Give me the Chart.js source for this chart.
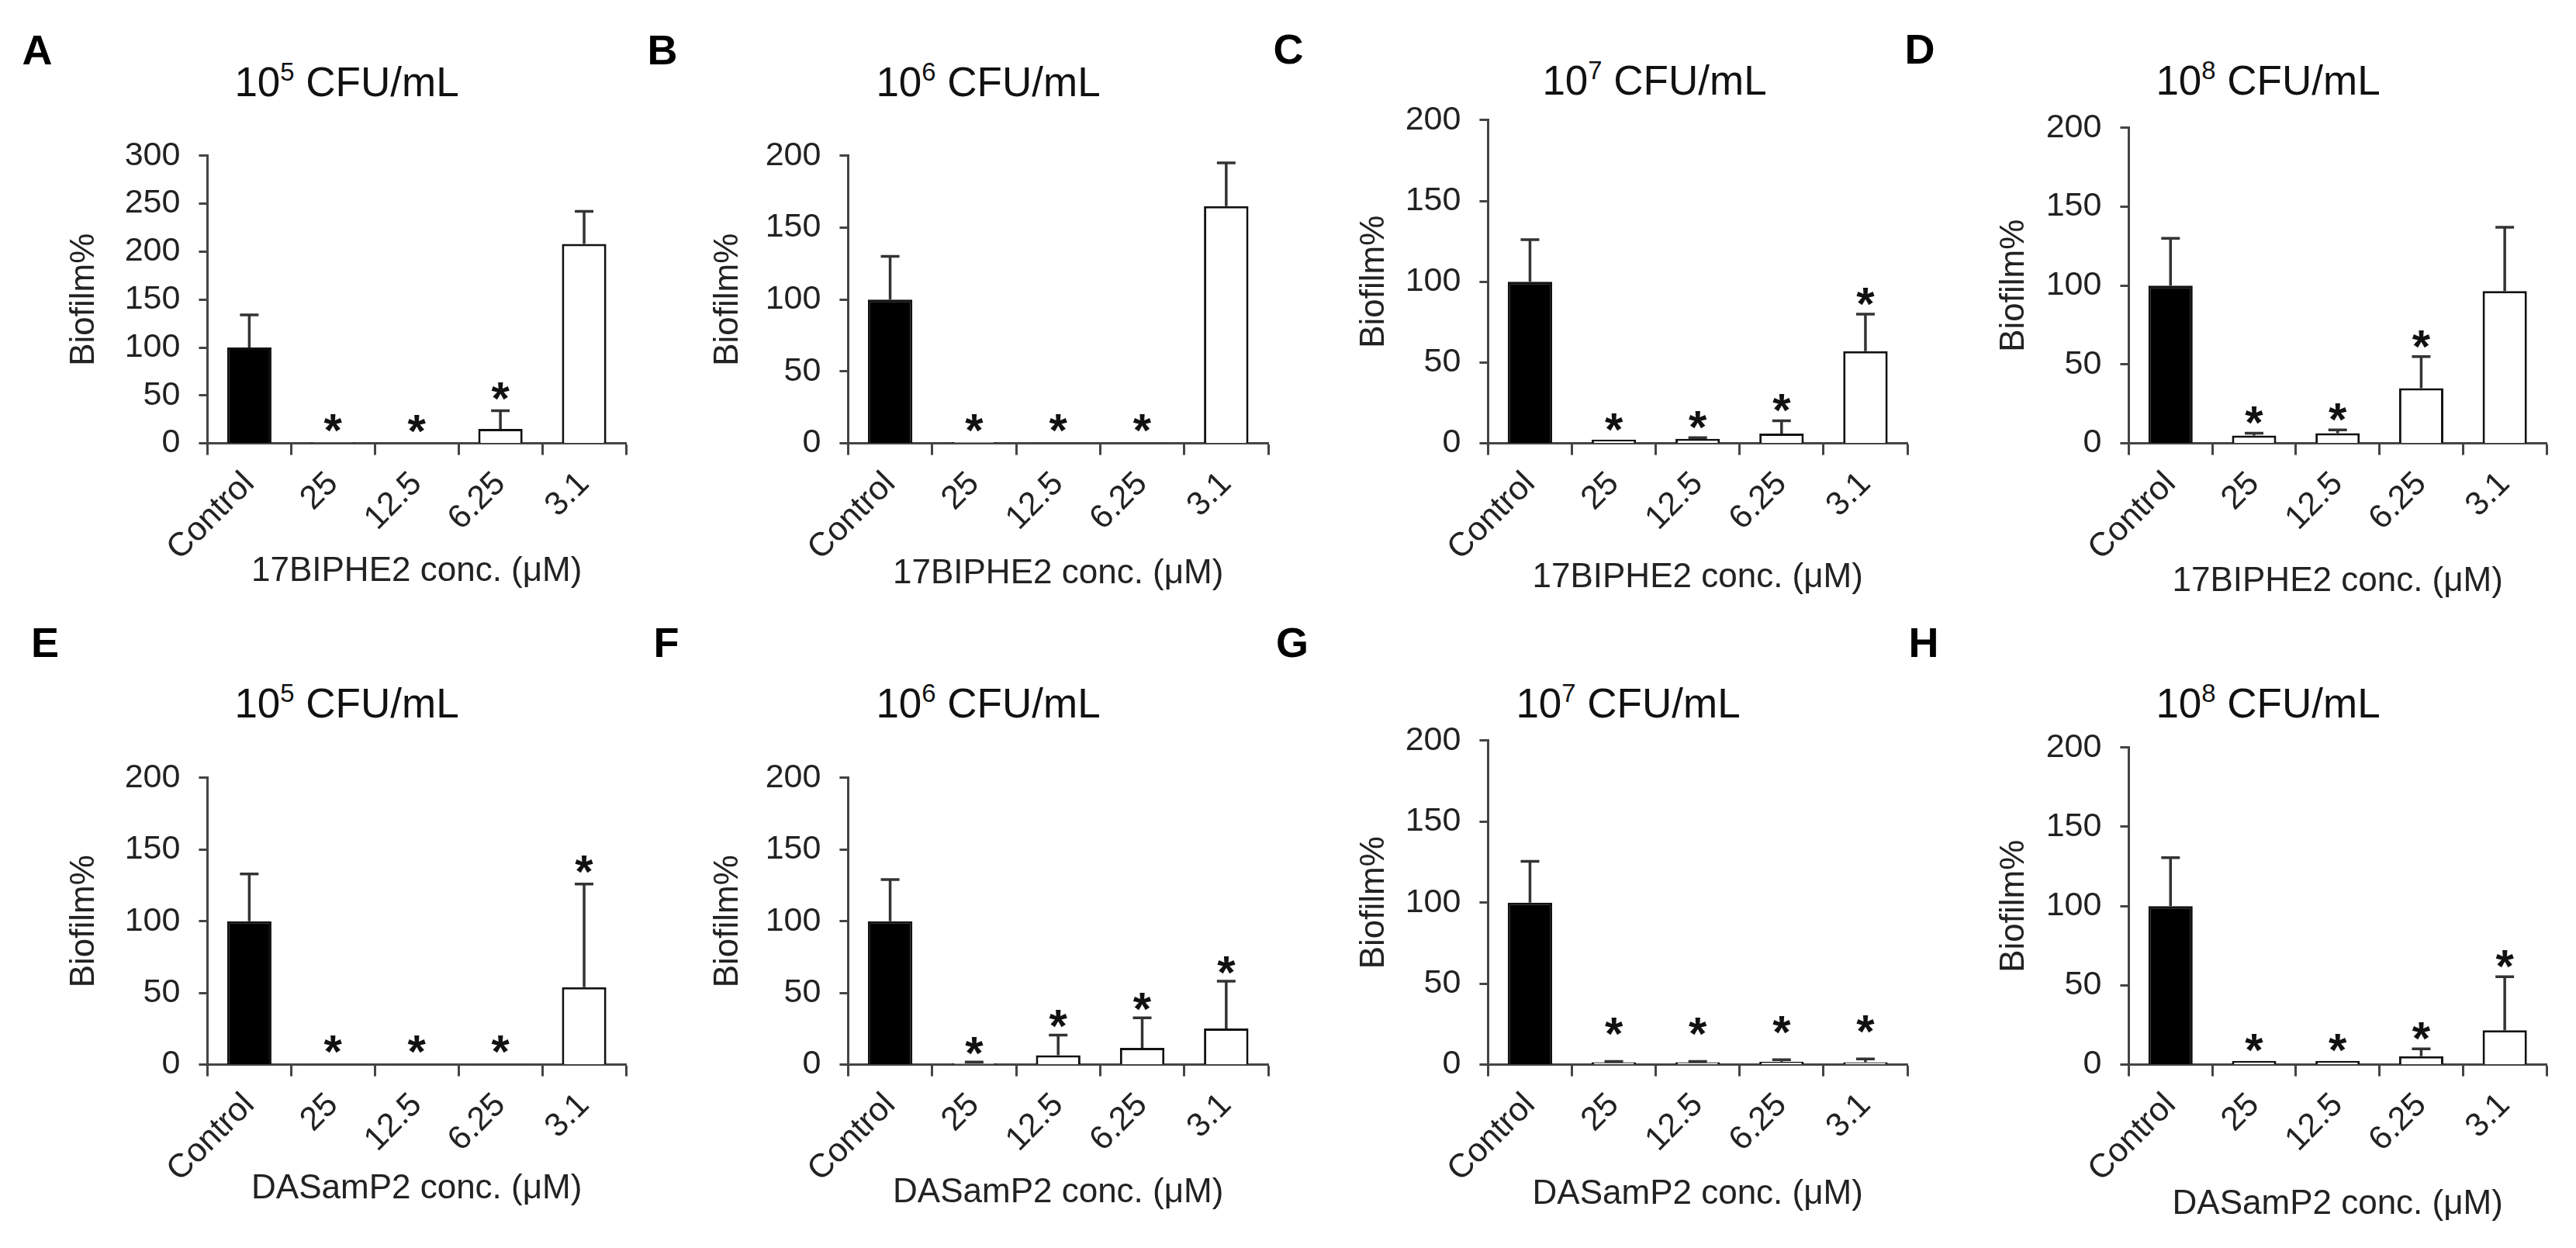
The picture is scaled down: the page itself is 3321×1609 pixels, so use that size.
<!DOCTYPE html>
<html>
<head>
<meta charset="utf-8">
<script src="https://cdn.jsdelivr.net/npm/chart.js@4.4.0/dist/chart.umd.min.js"></script>
<style>
  body { margin: 0; background: #fff; width: 3321px; height: 1609px; position: relative; overflow: hidden;
         font-family: 'Liberation Sans', Arial, sans-serif; }
  canvas { position: absolute; }
  .letter { position: absolute; font-weight: bold; font-size: 54px; line-height: 1; color: #000;
            transform: translate(-50%, -50%); }
  .title { position: absolute; font-size: 53px; line-height: 1; color: #111; white-space: nowrap;
           transform: translate(-50%, -50%); }
  .title sup { font-size: 62%; vertical-align: baseline; position: relative; top: -0.62em; }
</style>
</head>
<body>
<script>
// Categories (concentration, µM)
const categories = ['Control', '25', '12.5', '6.25', '3.1'];
const drugTop = '17BIPHE2 conc. (\u03BCM)';
const drugBottom = 'DASamP2 conc. (\u03BCM)';

// Biofilm% means, upper SD, significance
const meanA = [100, 1, 0.5, 15, 208];
const sdA   = [34, 0, 0, 19, 34];
const starA = [false, true, true, true, false];

const meanB = [100, 0.8, 0.5, 0.5, 165];
const sdB   = [30, 0, 0, 0, 30];
const starB = [false, true, true, true, false];

const meanC = [100, 2.3, 2.8, 6, 57];
const sdC   = [26, 0, 0.7, 8, 23];
const starC = [false, true, true, true, true];

const meanD = [100, 5, 6.5, 35, 96.5];
const sdD   = [30, 1.5, 2, 20, 40.5];
const starD = [false, true, true, true, false];

const meanE = [100, 0.5, 0.5, 0.5, 54];
const sdE   = [33, 0, 0, 0, 72];
const starE = [false, true, true, true, true];

const meanF = [100, 0.8, 6.6, 11.7, 25.2];
const sdF   = [29, 1, 14, 21, 33];
const starF = [false, true, true, true, true];

const meanG = [100, 1.5, 1.5, 1.8, 1.5];
const sdG   = [25.5, 0.5, 0.5, 1.2, 2];
const starG = [false, true, true, true, true];

const meanH = [100, 2.4, 2.4, 5.3, 21.7];
const sdH   = [30.5, 0, 0, 4.7, 33.7];
const starH = [false, true, true, true, true];

const FONT = "'Liberation Sans', Arial, sans-serif";
const AXIS = '#444';
const TEXT = '#222';

// Panel layout (page pixels)
const panels = [
  { id: 'A', exp: '5', mean: meanA, sd: sdA, stars: starA, max: 300, drug: drugTop,
    L: 267, R: 807, T: 181, B: 572, ytx: 108, xty: 737, tx: 447, ty: 105, lx: 48, ly: 64, gap: 30 },
  { id: 'B', exp: '6', mean: meanB, sd: sdB, stars: starB, max: 200, drug: drugTop,
    L: 1093, R: 1635, T: 181, B: 572, ytx: 938, xty: 740, tx: 1274, ty: 105, lx: 854, ly: 64, gap: 30 },
  { id: 'C', exp: '7', mean: meanC, sd: sdC, stars: starC, max: 200, drug: drugTop,
    L: 1918, R: 2459, T: 135, B: 572, ytx: 1771, xty: 745, tx: 2133, ty: 103, lx: 1661, ly: 63, gap: 28 },
  { id: 'D', exp: '8', mean: meanD, sd: sdD, stars: starD, max: 200, drug: drugTop,
    L: 2744, R: 3283, T: 145, B: 572, ytx: 2596, xty: 750, tx: 2924, ty: 103, lx: 2475, ly: 63, gap: 28 },
  { id: 'E', exp: '5', mean: meanE, sd: sdE, stars: starE, max: 200, drug: drugBottom,
    L: 267, R: 807, T: 983, B: 1373, ytx: 108, xty: 1533, tx: 447, ty: 906, lx: 58, ly: 828, gap: 30 },
  { id: 'F', exp: '6', mean: meanF, sd: sdF, stars: starF, max: 200, drug: drugBottom,
    L: 1093, R: 1635, T: 983, B: 1373, ytx: 938, xty: 1538, tx: 1274, ty: 906, lx: 859, ly: 828, gap: 26 },
  { id: 'G', exp: '7', mean: meanG, sd: sdG, stars: starG, max: 200, drug: drugBottom,
    L: 1918, R: 2459, T: 935, B: 1373, ytx: 1771, xty: 1540, tx: 2099, ty: 906, lx: 1666, ly: 828, gap: 50 },
  { id: 'H', exp: '8', mean: meanH, sd: sdH, stars: starH, max: 200, drug: drugBottom,
    L: 2744, R: 3283, T: 944, B: 1373, ytx: 2596, xty: 1553, tx: 2924, ty: 906, lx: 2480, ly: 828, gap: 28 }
];

const TITLE_SIZE = 44;
const TITLE_HALF = TITLE_SIZE * 1.2 / 2;
const PAD_TOP = 30, PAD_RIGHT = 20;

// upper error bars + asterisks
function makeErrorPlugin(p) {
  return {
    id: 'errorBars' + p.id,
    afterDatasetsDraw(chart) {
      const ctx = chart.ctx;
      const y = chart.scales.y;
      const meta = chart.getDatasetMeta(0);
      ctx.save();
      meta.data.forEach((bar, i) => {
        const yTop = y.getPixelForValue(p.mean[i] + p.sd[i]);
        if (p.sd[i] > 0) {
          ctx.strokeStyle = '#333';
          ctx.lineWidth = 3.5;
          ctx.beginPath();
          ctx.moveTo(bar.x, bar.y);
          ctx.lineTo(bar.x, yTop);
          ctx.moveTo(bar.x - 12, yTop);
          ctx.lineTo(bar.x + 12, yTop);
          ctx.stroke();
        }
        if (p.stars[i]) {
          ctx.fillStyle = '#111';
          ctx.font = 'bold 60px ' + FONT;
          ctx.textAlign = 'center';
          ctx.textBaseline = 'alphabetic';
          ctx.fillText('*', bar.x, yTop - p.gap + 0.58 * 60);
        }
      });
      ctx.restore();
    }
  };
}

panels.forEach(p => {
  // panel letter and title as page text
  const letter = document.createElement('div');
  letter.className = 'letter';
  letter.style.left = p.lx + 'px';
  letter.style.top = p.ly + 'px';
  letter.textContent = p.id;
  document.body.appendChild(letter);

  const title = document.createElement('div');
  title.className = 'title';
  title.style.left = p.tx + 'px';
  title.style.top = p.ty + 'px';
  title.innerHTML = '10<sup>' + p.exp + '</sup> CFU/mL';
  document.body.appendChild(title);

  const left = p.ytx - TITLE_HALF;
  const yWidth = p.L - left;
  const xHeight = p.xty + TITLE_HALF - p.B;
  const canvas = document.createElement('canvas');
  canvas.width = Math.round(p.R + PAD_RIGHT - left);
  canvas.height = Math.round(PAD_TOP + (p.B - p.T) + xHeight);
  canvas.style.left = left + 'px';
  canvas.style.top = (p.T - PAD_TOP) + 'px';
  document.body.appendChild(canvas);

  new Chart(canvas.getContext('2d'), {
    type: 'bar',
    data: {
      labels: categories,
      datasets: [{
        data: p.mean,
        backgroundColor: p.mean.map((v, i) => i === 0 ? '#000' : '#fff'),
        borderColor: '#111',
        borderWidth: 3,
        barPercentage: 0.53,
        categoryPercentage: 1
      }]
    },
    options: {
      responsive: false,
      animation: false,
      devicePixelRatio: 1,
      layout: { padding: { top: PAD_TOP, right: PAD_RIGHT, bottom: 0, left: 0 } },
      plugins: { legend: { display: false }, tooltip: { enabled: false } },
      scales: {
        x: {
          afterFit: s => { s.height = xHeight; },
          grid: { offset: true, drawOnChartArea: false, drawTicks: true, tickLength: 15, tickColor: AXIS, tickWidth: 3 },
          border: { color: AXIS, width: 3 },
          ticks: { autoSkip: false, minRotation: 45, maxRotation: 45, padding: 12, color: TEXT,
                   font: { family: FONT, size: 43 } },
          title: { display: true, text: p.drug, color: TEXT, padding: 0,
                   font: { family: FONT, size: TITLE_SIZE, lineHeight: 1.2 } }
        },
        y: {
          min: 0,
          max: p.max,
          afterFit: s => { s.width = yWidth; },
          grid: { drawOnChartArea: false, drawTicks: true, tickLength: 11, tickColor: AXIS, tickWidth: 3 },
          border: { color: AXIS, width: 3 },
          ticks: { stepSize: 50, padding: 24, color: TEXT, font: { family: FONT, size: 43 } },
          title: { display: true, text: 'Biofilm%', color: TEXT, padding: 0,
                   font: { family: FONT, size: TITLE_SIZE, lineHeight: 1.2 } }
        }
      }
    },
    plugins: [makeErrorPlugin(p)]
  });
});
</script>
</body>
</html>
